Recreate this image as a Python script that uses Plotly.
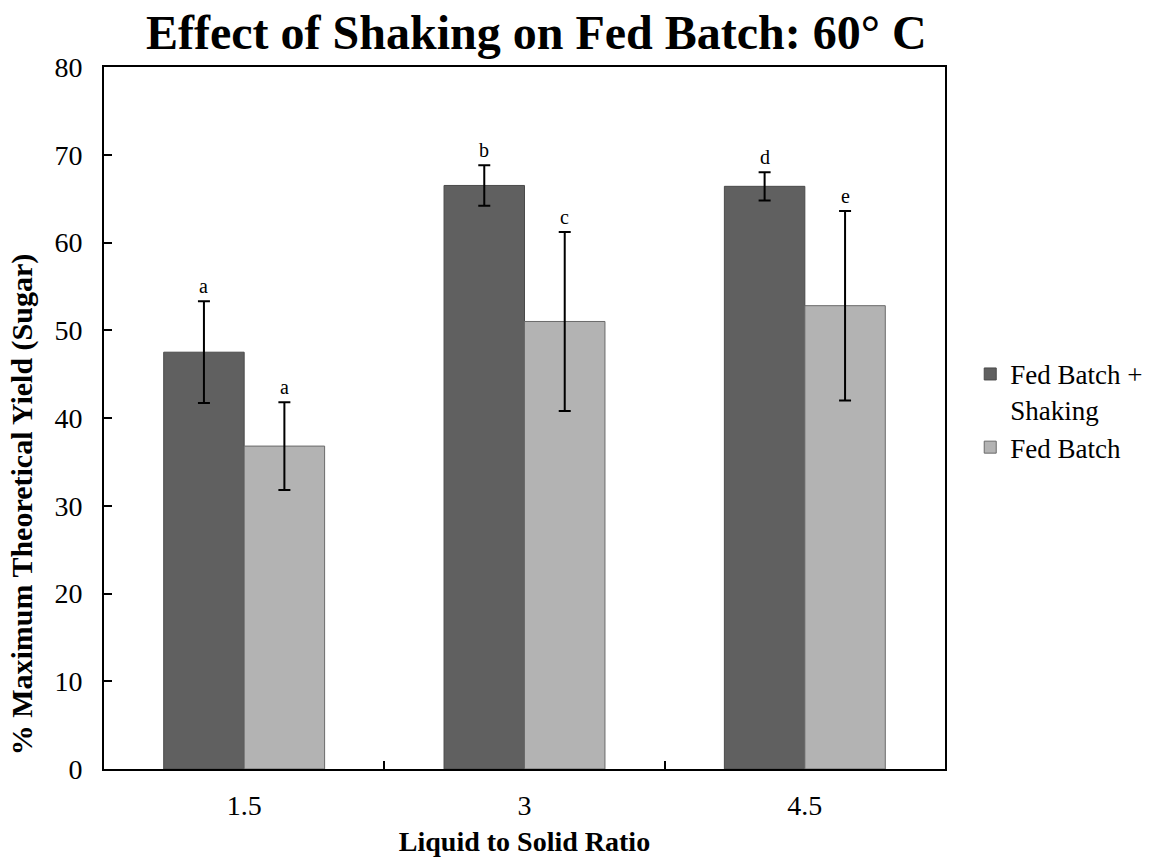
import plotly.graph_objects as go

categories = ["1.5", "3", "4.5"]
shaking_vals = [47.5, 66.5, 66.4]
shaking_err = [5.8, 2.3, 1.6]
shaking_letters = ["a", "b", "d"]
fed_vals = [36.8, 51.0, 52.8]
fed_err = [5.0, 10.2, 10.8]
fed_letters = ["a", "c", "e"]
y_ticks = [0, 10, 20, 30, 40, 50, 60, 70, 80]

FONT = "Liberation Serif, Times New Roman, serif"
BARGAP = 0.426
bar_w = (1 - BARGAP) / 2

fig = go.Figure()
fig.add_trace(go.Bar(
    name="Fed Batch +<br>Shaking", x=categories, y=shaking_vals,
    marker=dict(color="#606060", line=dict(color="#4a4a4a", width=1)),
    error_y=dict(type="data", array=shaking_err, color="black", thickness=2, width=6),
))
fig.add_trace(go.Bar(
    name="Fed Batch", x=categories, y=fed_vals,
    marker=dict(color="#b3b3b3", line=dict(color="#6a6a6a", width=1)),
    error_y=dict(type="data", array=fed_err, color="black", thickness=2, width=6),
))

annotations = []
for i in range(len(categories)):
    for vals, errs, letters, off in ((shaking_vals, shaking_err, shaking_letters, -bar_w / 2),
                                     (fed_vals, fed_err, fed_letters, bar_w / 2)):
        annotations.append(dict(
            x=i + off, y=vals[i] + errs[i], xref="x", yref="y",
            text=letters[i], showarrow=False, yanchor="bottom", yshift=2,
            font=dict(family=FONT, size=20, color="black"),
        ))

# y-axis title placed as rotated text (sits lower than plot centre in the reference)
annotations.append(dict(
    x=-0.0975, y=0.377, xref="paper", yref="paper",
    text="<b>% Maximum Theoretical Yield (Sugar)</b>", textangle=-90,
    showarrow=False, xanchor="center", yanchor="middle",
    font=dict(family=FONT, size=30, color="black"),
))

fig.update_layout(
    width=1158, height=863,
    margin=dict(l=104, r=213, t=67, b=94, autoexpand=False),
    paper_bgcolor="white", plot_bgcolor="white",
    barmode="group", bargap=BARGAP, bargroupgap=0,
    font=dict(family=FONT, color="black"),
    title=dict(text="<b>Effect of Shaking on Fed Batch: 60° C</b>",
               x=0.514, xref="paper", xanchor="center",
               y=1 - 32 / 863, yref="container", yanchor="middle",
               font=dict(family=FONT, size=48, color="black")),
    legend=dict(x=1.03, xanchor="left", y=0.597, yanchor="top",
                font=dict(family=FONT, size=27, color="black"),
                valign="top", bgcolor="rgba(0,0,0,0)", tracegroupgap=0),
    annotations=annotations,
    xaxis=dict(
        type="category", range=[-0.5, 2.5], automargin=False,
        showline=True, linecolor="black", linewidth=2, mirror=True,
        ticks="inside", tickson="boundaries", ticklen=8, tickwidth=1.5, tickcolor="black",
        tickfont=dict(family=FONT, size=28, color="black"), ticklabelstandoff=10,
        title=dict(text="<b>Liquid to Solid Ratio</b>", standoff=12,
                   font=dict(family=FONT, size=28, color="black")),
        showgrid=False, zeroline=False,
    ),
    yaxis=dict(
        range=[0, 80], tickvals=y_ticks, automargin=False,
        showline=True, linecolor="black", linewidth=2, mirror=True,
        ticks="inside", ticklen=8, tickwidth=1.5, tickcolor="black",
        tickfont=dict(family=FONT, size=28, color="black"), ticklabelstandoff=14,
        showgrid=False, zeroline=False,
    ),
)

fig.write_html("out.html")
